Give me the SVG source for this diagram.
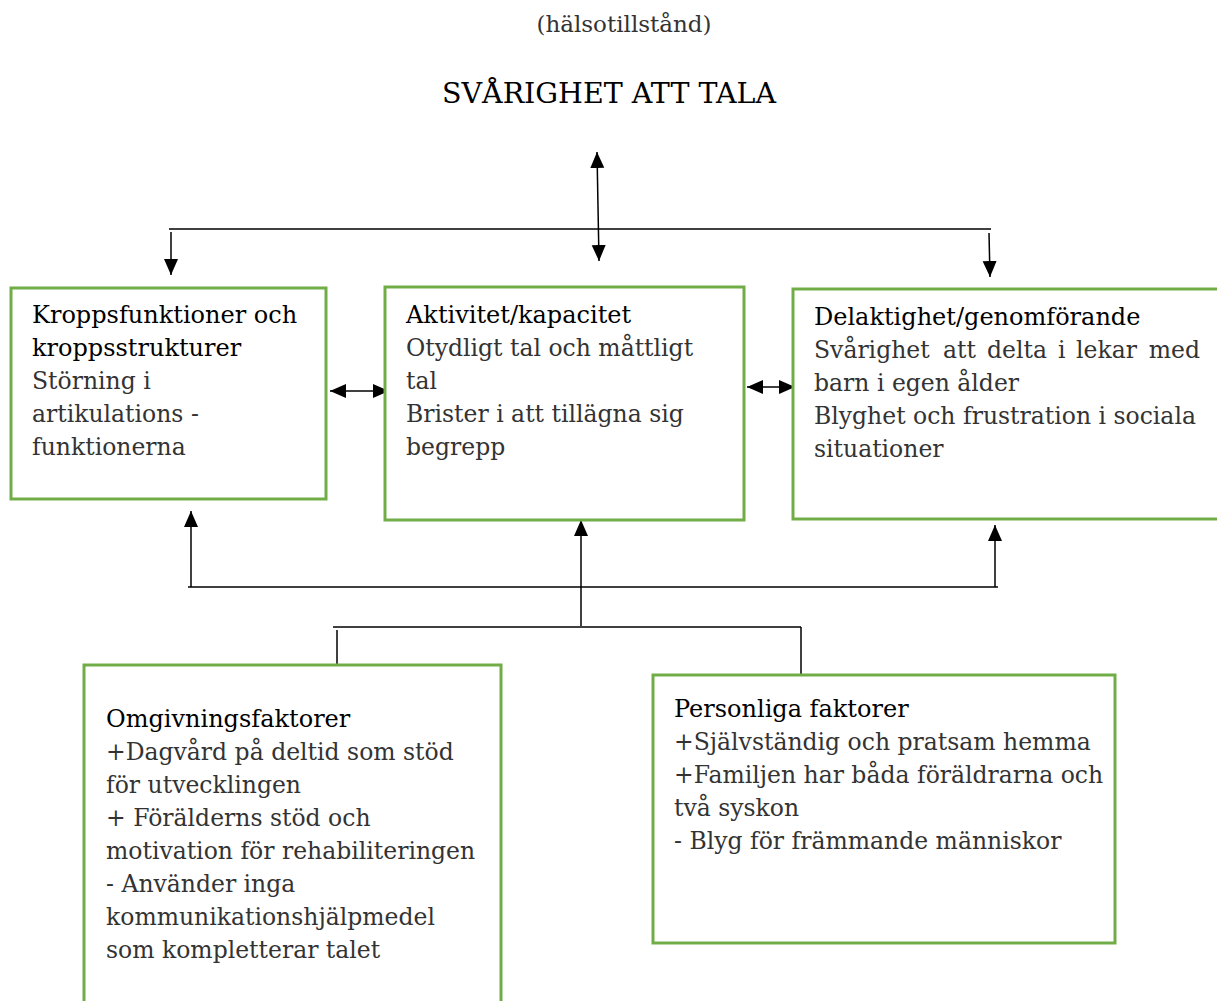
<svg xmlns="http://www.w3.org/2000/svg" width="1217" height="1001" viewBox="0 0 1217 1001">
<style>
.box{fill:#fff;stroke:#70AD47;stroke-width:3}
.h{font-family:"DejaVu Serif","Liberation Serif",serif;font-size:24px;fill:#000}
.b{font-family:"DejaVu Serif","Liberation Serif",serif;font-size:23.5px;fill:#333}
.ln{stroke:#000;stroke-width:1.5;fill:none}
</style>
<defs>
<marker id="ah" markerUnits="userSpaceOnUse" markerWidth="18" markerHeight="16" refX="16" refY="7" orient="auto-start-reverse" viewBox="0 0 18 14">
<path d="M0,0 L16,7 L0,14 Z" fill="#000"/>
</marker>
</defs>
<rect width="1217" height="1001" fill="#fff"/>
<g id="title">
<text x="624" y="32" text-anchor="middle" class="b" style="font-size:23px">(hälsotillstånd)</text>
<text x="609" y="103" text-anchor="middle" class="h" style="font-size:28.5px">SVÅRIGHET ATT TALA</text>
</g>
<g id="connectors">
<line class="ln" x1="597" y1="152" x2="599" y2="261" marker-start="url(#ah)" marker-end="url(#ah)"/>
<line class="ln" x1="169" y1="229" x2="991" y2="229"/>
<line class="ln" x1="171" y1="232" x2="171" y2="275" marker-end="url(#ah)"/>
<line class="ln" x1="989" y1="233" x2="990" y2="277" marker-end="url(#ah)"/>
<line class="ln" x1="330" y1="391" x2="389" y2="391" marker-start="url(#ah)" marker-end="url(#ah)"/>
<line class="ln" x1="747" y1="387" x2="795" y2="387" marker-start="url(#ah)" marker-end="url(#ah)"/>
<line class="ln" x1="188" y1="587" x2="998" y2="587"/>
<line class="ln" x1="191" y1="587" x2="191" y2="511" marker-end="url(#ah)"/>
<line class="ln" x1="995" y1="587" x2="995" y2="525" marker-end="url(#ah)"/>
<line class="ln" x1="581" y1="626" x2="581" y2="520" marker-end="url(#ah)"/>
<line class="ln" x1="333" y1="627" x2="801" y2="627"/>
<line class="ln" x1="337" y1="630" x2="337" y2="664"/>
<line class="ln" x1="801" y1="627" x2="801" y2="675"/>
</g>
<g id="kropp">
<rect class="box" x="11" y="288" width="315" height="211"/>
<text class="h" x="32" y="323">Kroppsfunktioner och</text>
<text class="h" x="32" y="356">kroppsstrukturer</text>
<text class="b" x="32" y="389">Störning i</text>
<text class="b" x="32" y="422">artikulations -</text>
<text class="b" x="32" y="455">funktionerna</text>
</g>
<g id="aktivitet">
<rect class="box" x="385" y="287" width="359" height="233"/>
<text class="h" x="406" y="323">Aktivitet/kapacitet</text>
<text class="b" x="406" y="356">Otydligt tal och måttligt</text>
<text class="b" x="406" y="389">tal</text>
<text class="b" x="406" y="422">Brister i att tillägna sig</text>
<text class="b" x="406" y="455">begrepp</text>
</g>
<g id="delaktighet">
<rect class="box" x="793" y="289" width="430" height="230"/>
<text class="h" x="814" y="325">Delaktighet/genomförande</text>
<text class="b" y="358"><tspan x="814">Svårighet</tspan><tspan x="943">att</tspan><tspan x="987">delta</tspan><tspan x="1058">i</tspan><tspan x="1076">lekar</tspan><tspan x="1200" text-anchor="end">med</tspan></text>
<text class="b" x="814" y="391">barn i egen ålder</text>
<text class="b" x="814" y="424">Blyghet och frustration i sociala</text>
<text class="b" x="814" y="457">situationer</text>
</g>
<g id="omgivning">
<rect class="box" x="84" y="665" width="417" height="345"/>
<text class="h" x="106" y="727">Omgivningsfaktorer</text>
<text class="b" x="106" y="760">+Dagvård på deltid som stöd</text>
<text class="b" x="106" y="793">för utvecklingen</text>
<text class="b" x="106" y="826">+ Förälderns stöd och</text>
<text class="b" x="106" y="859">motivation för rehabiliteringen</text>
<text class="b" x="106" y="892">- Använder inga</text>
<text class="b" x="106" y="925">kommunikationshjälpmedel</text>
<text class="b" x="106" y="958">som kompletterar talet</text>
</g>
<g id="personliga">
<rect class="box" x="653" y="675" width="462" height="268"/>
<text class="h" x="674" y="717">Personliga faktorer</text>
<text class="b" x="674" y="750">+Självständig och pratsam hemma</text>
<text class="b" x="674" y="783">+Familjen har båda föräldrarna och</text>
<text class="b" x="674" y="816">två syskon</text>
<text class="b" x="674" y="849">- Blyg för främmande människor</text>
</g>
</svg>
